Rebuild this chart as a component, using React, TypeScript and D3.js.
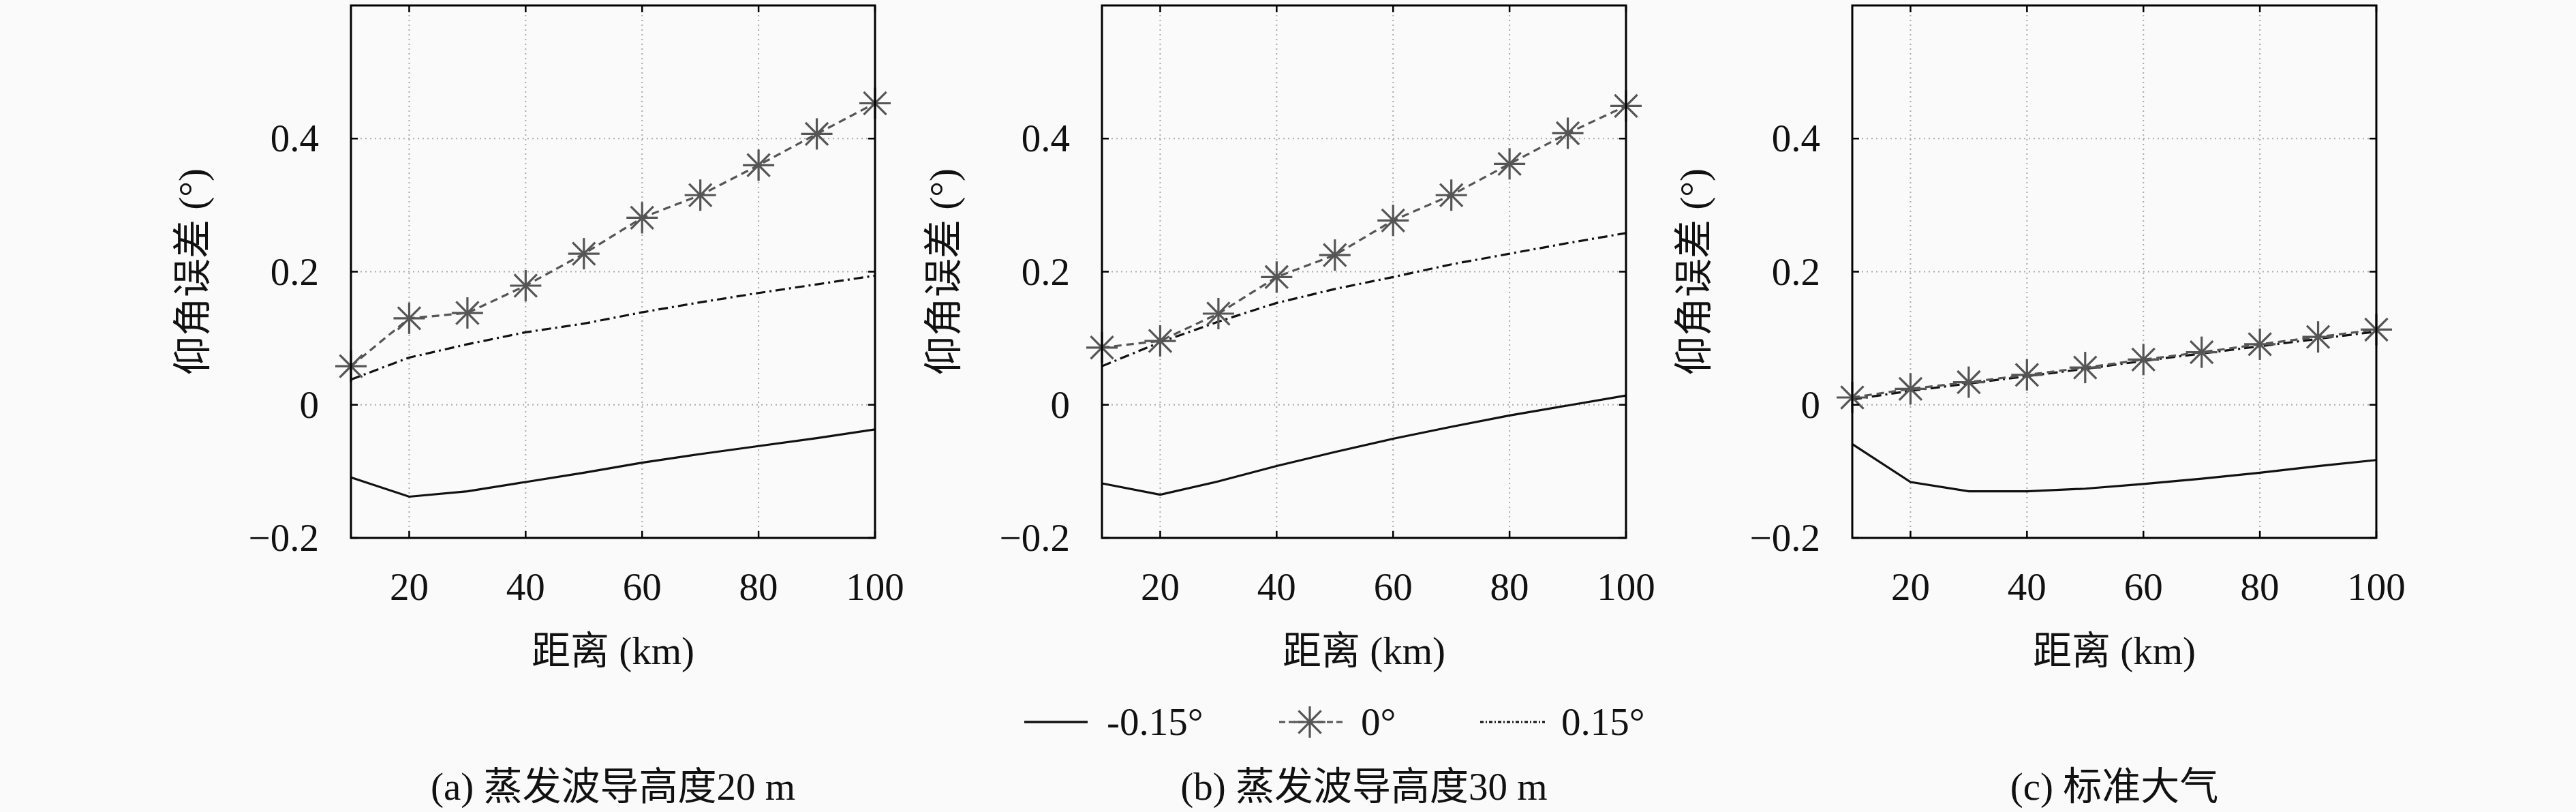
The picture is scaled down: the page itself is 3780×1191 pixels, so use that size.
import * as d3 from "d3";

// distance samples (km)
const distances = [10, 20, 30, 40, 50, 60, 70, 80, 90, 100];

// (a) evaporation duct 20 m
const aNeg = [-0.109, -0.138, -0.130, -0.116, -0.102, -0.087, -0.074, -0.062, -0.050, -0.037];
const aZero = [0.058, 0.130, 0.138, 0.179, 0.227, 0.281, 0.315, 0.360, 0.407, 0.453];
const aPos = [0.038, 0.071, 0.091, 0.109, 0.122, 0.139, 0.154, 0.168, 0.181, 0.194];

// (b) evaporation duct 30 m
const bNeg = [-0.118, -0.135, -0.115, -0.092, -0.071, -0.051, -0.033, -0.016, -0.001, 0.014];
const bZero = [0.086, 0.096, 0.137, 0.192, 0.225, 0.277, 0.315, 0.362, 0.408, 0.449];
const bPos = [0.058, 0.094, 0.125, 0.153, 0.174, 0.192, 0.211, 0.227, 0.243, 0.258];

// (c) standard atmosphere
const cNeg = [-0.059, -0.116, -0.130, -0.130, -0.126, -0.119, -0.111, -0.102, -0.092, -0.083];
const cZero = [0.011, 0.024, 0.034, 0.045, 0.056, 0.068, 0.079, 0.091, 0.102, 0.113];
const cPos = [0.008, 0.021, 0.032, 0.043, 0.054, 0.066, 0.077, 0.088, 0.099, 0.110];

const xTicks = [20, 40, 60, 80, 100];
const yTicks = [-0.2, 0, 0.2, 0.4];
const titles = ["(a) 蒸发波导高度20 m", "(b) 蒸发波导高度30 m", "(c) 标准大气"];
const legendLabels = ["-0.15°", "0°", "0.15°"];

const panels = [
  { left: 515, title: titles[0], neg: aNeg, zero: aZero, pos: aPos },
  { left: 1617, title: titles[1], neg: bNeg, zero: bZero, pos: bPos },
  { left: 2718, title: titles[2], neg: cNeg, zero: cZero, pos: cPos },
];

const W = 3780;
const H = 1191;
const plotW = 769;
const top = 8;
const bottom = 789;
const font = "'Liberation Serif', 'Noto Sans CJK SC', serif";
const fs = 57;
const ink = "#111";
const grey = "#555";
const dashDot = "14 6 3 6";

function Star({ cx, cy, r }: { cx: number; cy: number; r: number }) {
  const d = r * 0.72;
  return (
    <g stroke={grey} strokeWidth={3.2}>
      <line x1={cx - r} y1={cy} x2={cx + r} y2={cy} />
      <line x1={cx} y1={cy - r} x2={cx} y2={cy + r} />
      <line x1={cx - d} y1={cy - d} x2={cx + d} y2={cy + d} />
      <line x1={cx - d} y1={cy + d} x2={cx + d} y2={cy - d} />
    </g>
  );
}

function Panel({ left, title, neg, zero, pos }: any) {
  const x = d3.scaleLinear().domain([10, 100]).range([left, left + plotW]);
  const y = d3.scaleLinear().domain([-0.2, 0.6]).range([bottom, top]);
  const line = d3
    .line<number>()
    .x((_, i) => x(distances[i]))
    .y((v) => y(v));
  const cx = left + plotW / 2;

  return (
    <g>
      {/* grid */}
      {xTicks
        .filter((t) => t < 100)
        .map((t) => (
          <line key={"gx" + t} x1={x(t)} x2={x(t)} y1={top} y2={bottom} stroke="#aaa" strokeWidth={2} strokeDasharray="2 5" />
        ))}
      {yTicks
        .filter((t) => t > -0.2)
        .map((t) => (
          <line key={"gy" + t} x1={left} x2={left + plotW} y1={y(t)} y2={y(t)} stroke="#aaa" strokeWidth={2} strokeDasharray="2 5" />
        ))}

      {/* series */}
      <path d={line(neg) ?? ""} fill="none" stroke={ink} strokeWidth={3.2} />
      <path d={line(pos) ?? ""} fill="none" stroke={ink} strokeWidth={3.2} strokeDasharray={dashDot} />
      <path d={line(zero) ?? ""} fill="none" stroke={grey} strokeWidth={3.2} strokeDasharray="11 7" />
      {zero.map((v: number, i: number) => (
        <Star key={i} cx={x(distances[i])} cy={y(v)} r={23} />
      ))}

      {/* frame and ticks */}
      <rect x={left} y={top} width={plotW} height={bottom - top} fill="none" stroke="#000" strokeWidth={3} />
      {xTicks.map((t) => (
        <g key={"tx" + t} stroke="#000" strokeWidth={2.5}>
          <line x1={x(t)} x2={x(t)} y1={bottom} y2={bottom - 10} />
          <line x1={x(t)} x2={x(t)} y1={top} y2={top + 10} />
        </g>
      ))}
      {yTicks.map((t) => (
        <g key={"ty" + t} stroke="#000" strokeWidth={2.5}>
          <line x1={left} x2={left + 10} y1={y(t)} y2={y(t)} />
          <line x1={left + plotW} x2={left + plotW - 10} y1={y(t)} y2={y(t)} />
        </g>
      ))}

      {/* tick labels */}
      {xTicks.map((t) => (
        <text key={"lx" + t} x={x(t)} y={880} textAnchor="middle" fontSize={fs} fontFamily={font} fill={ink}>
          {t}
        </text>
      ))}
      {yTicks.map((t) => (
        <text key={"ly" + t} x={left - 47} y={y(t) + 19} textAnchor="end" fontSize={fs} fontFamily={font} fill={ink}>
          {t === 0 ? "0" : t < 0 ? "\u2212" + Math.abs(t) : String(t)}
        </text>
      ))}

      {/* axis labels */}
      <text x={cx} y={974} textAnchor="middle" fontSize={fs} fontFamily={font} fill={ink}>
        距离 (km)
      </text>
      <text
        transform={`translate(${left - 233},${(top + bottom) / 2}) rotate(-90)`}
        dy="0.35em"
        textAnchor="middle"
        fontSize={fs}
        fontFamily={font}
        fill={ink}
      >
        仰角误差 (°)
      </text>

      {/* subtitle */}
      <text x={cx} y={1173} textAnchor="middle" fontSize={fs} fontFamily={font} fill={ink}>
        {title}
      </text>
    </g>
  );
}

function Legend() {
  const ly = 1059;
  return (
    <g fontFamily={font} fontSize={fs} fill={ink}>
      <line x1={1503} x2={1596} y1={ly} y2={ly} stroke={ink} strokeWidth={3.5} />
      <text x={1624} y={ly + 19}>{legendLabels[0]}</text>
      <line x1={1877} x2={1970} y1={ly} y2={ly} stroke={grey} strokeWidth={3} strokeDasharray="9 5" />
      <Star cx={1922} cy={ly} r={23} />
      <text x={1997} y={ly + 19}>{legendLabels[1]}</text>
      <line x1={2172} x2={2267} y1={ly} y2={ly} stroke={ink} strokeWidth={3} strokeDasharray="5 3 2 3" />
      <text x={2291} y={ly + 19}>{legendLabels[2]}</text>
    </g>
  );
}

export default function App() {
  return (
    <div style={{ position: "fixed", left: 0, top: 0 }}>
      <svg width={W} height={H} viewBox={`0 0 ${W} ${H}`} style={{ display: "block", background: "#fafafa" }}>
        {panels.map((p, i) => (
          <Panel key={i} {...p} />
        ))}
        <Legend />
      </svg>
    </div>
  );
}
